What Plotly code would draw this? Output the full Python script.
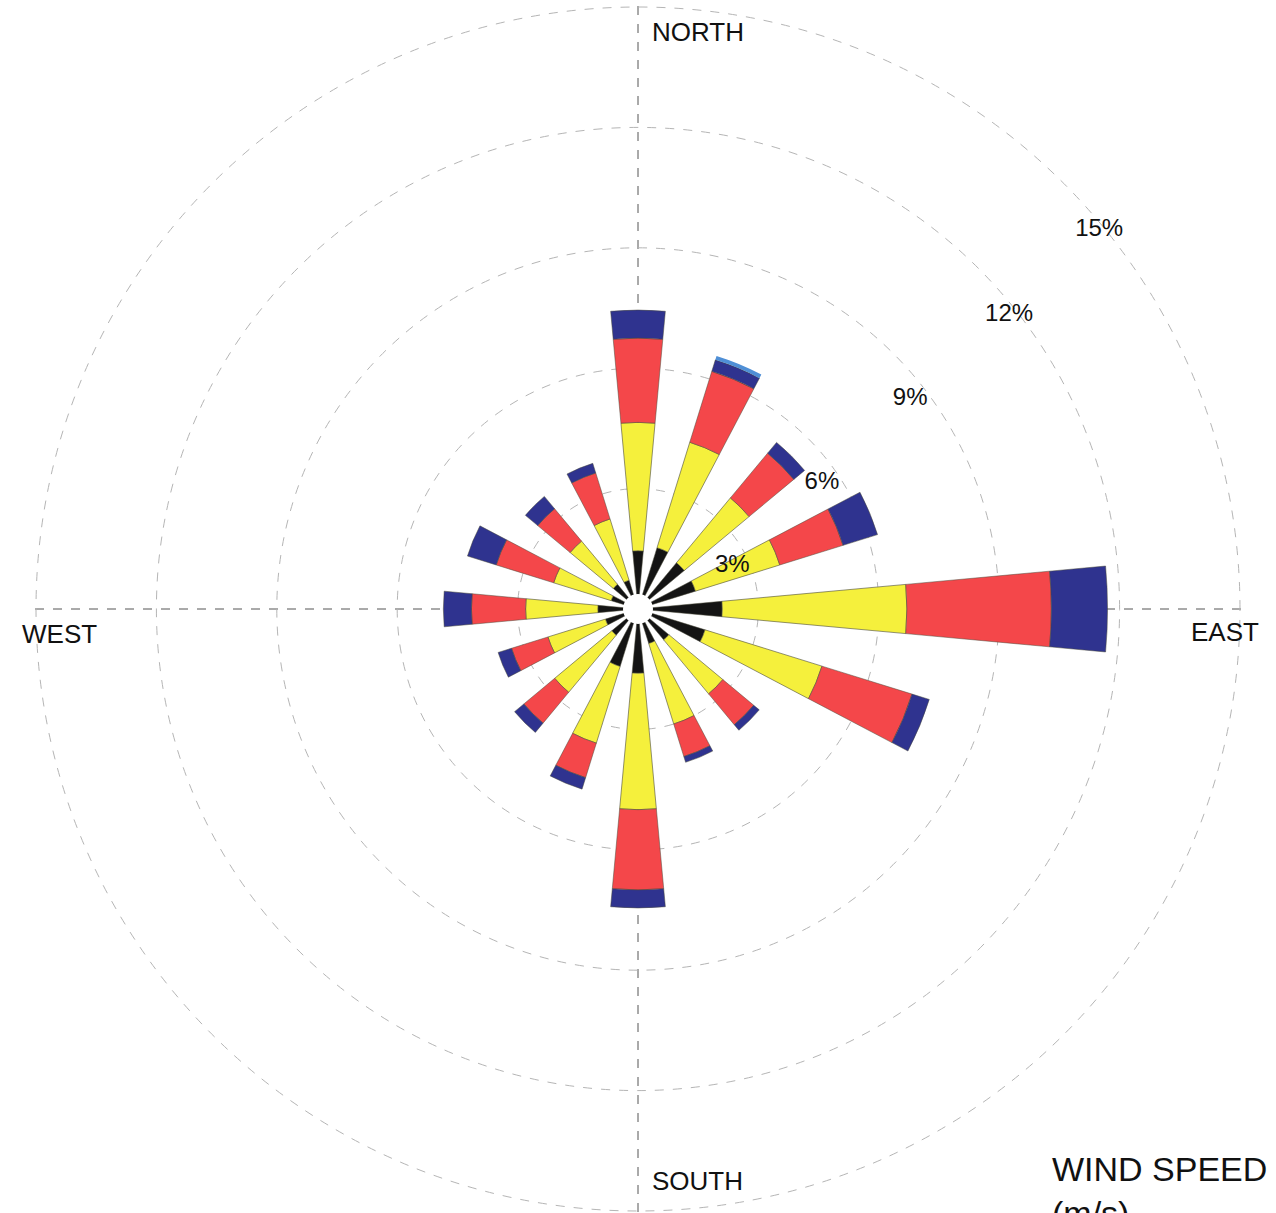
import plotly.graph_objects as go

# ---------------- data ----------------
directions = ["N", "NNE", "NE", "ENE", "E", "ESE", "SE", "SSE",
              "S", "SSW", "SW", "WSW", "W", "WNW", "NW", "NNW"]
angles_deg = [0, 22.5, 45, 67.5, 90, 112.5, 135, 157.5,
              180, 202.5, 225, 247.5, 270, 292.5, 315, 337.5]

# frequency of occurrence (%) per wind-speed class, stacked outward
black_vals = [1.45, 1.60, 1.50, 1.50, 2.10, 1.75, 1.00, 0.90,
              1.60, 1.50, 0.85, 0.85, 1.00, 0.70, 0.80, 0.75]
yellow_vals = [3.20, 2.75, 2.10, 2.20, 4.60, 3.05, 1.75, 2.10,
               3.40, 2.00, 1.85, 1.50, 1.80, 1.50, 1.40, 1.60]
red_vals = [2.10, 1.85, 1.45, 1.65, 3.60, 2.35, 1.00, 0.85,
            2.00, 0.90, 1.00, 0.95, 1.35, 1.50, 1.05, 1.20]
blue_vals = [0.70, 0.30, 0.35, 0.90, 1.40, 0.45, 0.18, 0.15,
             0.45, 0.30, 0.30, 0.35, 0.70, 0.75, 0.40, 0.25]
lightblue_vals = [0, 0.10, 0, 0, 0, 0, 0, 0,
                  0, 0, 0, 0, 0, 0, 0, 0]

ring_values = [3, 6, 9, 12, 15]
ring_labels = ["3%", "6%", "9%", "12%", "15%"]
compass_labels = ["NORTH", "EAST", "SOUTH", "WEST"]
legend_title = "WIND SPEED<br>(m/s)"

# ---------------- styling / layout ----------------
W, H = 1276, 1213
TOP = 5
FONT = "Liberation Sans, Arial, Helvetica, sans-serif"
BAR_WIDTH = 10.5

series = [
    (black_vals, "#141414", 0.5),
    (yellow_vals, "#f5f03c", 0.6),
    (red_vals, "#f4474a", 0.5),
    (blue_vals, "#2f338f", 0.5),
    (lightblue_vals, "#4f8fd6", 0),
]

fig = go.Figure()
for vals, col, lw in series:
    fig.add_trace(go.Barpolar(
        r=vals, theta=angles_deg, width=[BAR_WIDTH] * len(vals),
        marker=dict(color=col, line=dict(color="#4a4a3a", width=lw)),
        hovertext=directions, showlegend=False,
    ))

# percentage ring labels (placed inside each ring, upper right)
label_r = [2.58, 5.56, 8.57, 11.8, 14.87]
label_theta = [65.6, 55.5, 52.3, 51.6, 50.6]
fig.add_trace(go.Scatterpolar(
    r=label_r, theta=label_theta, mode="text", text=ring_labels,
    textfont=dict(family=FONT, size=24, color="#111"),
    textposition="middle center", showlegend=False, hoverinfo="skip",
))

fig.update_layout(
    width=W, height=H,
    margin=dict(l=0, r=0, t=TOP, b=0),
    paper_bgcolor="white",
    polar=dict(
        domain=dict(x=[0, 1], y=[0, 1]),
        bgcolor="white",
        barmode="stack",
        radialaxis=dict(
            range=[0, 15.05], tickvals=ring_values, showticklabels=False,
            ticks="", showline=False, gridcolor="#b5b5b5", griddash="dash",
            gridwidth=1, layer="below traces",
        ),
        angularaxis=dict(
            rotation=90, direction="clockwise",
            tickvals=[0, 90, 180, 270], showticklabels=False, ticks="",
            showline=False, gridcolor="#555555", griddash="dash",
            gridwidth=1, layer="below traces",
        ),
    ),
    shapes=[dict(
        type="circle", xref="paper", yref="paper",
        xsizemode="pixel", ysizemode="pixel",
        xanchor=0.5, yanchor=0.5, x0=-15, x1=15, y0=-15, y1=15,
        fillcolor="white", line=dict(width=0), layer="above",
    )],
)

def py(ypix):
    return 1 - (ypix - TOP) / (H - TOP)

ann_font = dict(family=FONT, size=26, color="#111")
fig.add_annotation(text=compass_labels[0], x=650 / W, y=py(32), xref="paper", yref="paper",
                   xanchor="left", yanchor="middle", showarrow=False, font=ann_font)
fig.add_annotation(text=compass_labels[1], x=1261 / W, y=py(632), xref="paper", yref="paper",
                   xanchor="right", yanchor="middle", showarrow=False, font=ann_font)
fig.add_annotation(text=compass_labels[2], x=650 / W, y=py(1181), xref="paper", yref="paper",
                   xanchor="left", yanchor="middle", showarrow=False, font=ann_font)
fig.add_annotation(text=compass_labels[3], x=20 / W, y=py(634), xref="paper", yref="paper",
                   xanchor="left", yanchor="middle", showarrow=False, font=ann_font)
fig.add_annotation(text=legend_title, x=1050 / W, y=py(1148), xref="paper", yref="paper",
                   xanchor="left", yanchor="top", align="left", showarrow=False,
                   font=dict(family=FONT, size=34, color="#111"))

fig.write_html("out.html", config={"displayModeBar": False},
               post_script="document.body.style.margin='0';document.body.style.overflow='hidden';")
